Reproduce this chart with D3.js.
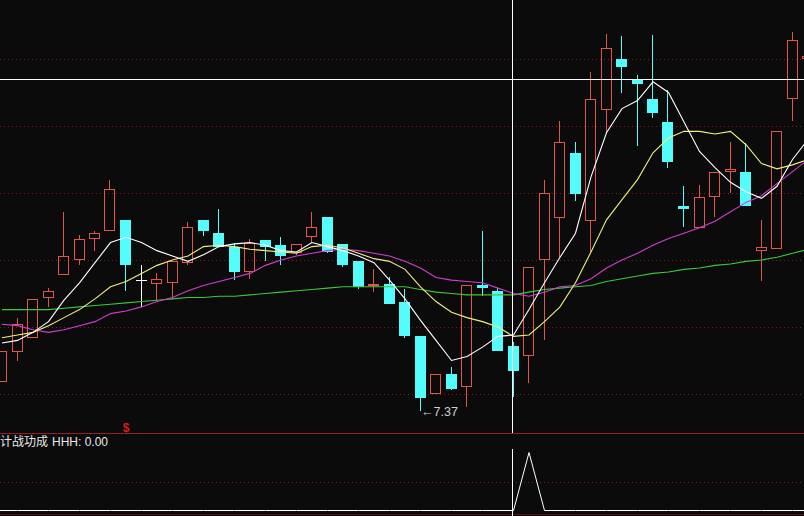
<!DOCTYPE html>
<html><head><meta charset="utf-8">
<script src="https://cdn.jsdelivr.net/npm/d3@7"></script>
<style>
html,body{margin:0;padding:0;background:#0b0b0b;overflow:hidden;}
svg{display:block;}
</style></head>
<body><svg id="c" width="804" height="516"></svg>
<script>
// ---- data ----
const days = d3.range(1, 54);
const open  = [7.59,7.81,7.92,8.22,8.39,8.50,8.66,8.72,8.80,8.35, 8.32,8.33,8.48,8.80,8.70,8.60,8.41,8.65,8.61,8.55, 8.67,8.82,8.62,8.49,8.31,8.32,8.19,7.93,7.50,7.65, 7.55,8.31,8.27,7.86,7.78,8.50,8.81,9.30,8.79,9.62, 10.00,9.84,9.70,9.53,8.90,8.74,8.97,9.16,9.16,8.57, 8.58,9.70,10.00];
const high  = [7.82,8.07,8.21,8.29,8.86,8.69,8.72,9.10,8.80,8.46, 8.40,8.49,8.78,8.80,8.88,8.63,8.66,8.65,8.67,8.62, 8.86,8.82,8.62,8.49,8.43,8.37,8.28,7.93,7.65,7.70, 8.31,8.72,8.29,7.89,8.45,9.10,9.54,9.38,9.90,10.19, 10.17,9.88,10.18,9.77,9.05,9.06,9.16,9.38,9.37,8.80, 9.46,10.20,10.06];
const low   = [7.59,7.75,7.92,8.15,8.39,8.46,8.57,8.72,8.27,8.15, 8.20,8.21,8.46,8.68,8.60,8.35,8.36,8.49,8.46,8.54, 8.63,8.55,8.45,8.28,8.26,8.17,7.92,7.37,7.50,7.53, 7.40,8.23,7.82,7.48,7.58,7.90,8.52,8.94,8.56,9.45, 9.75,9.35,9.56,9.19,8.75,8.74,8.82,9.00,8.90,8.34, 8.58,9.54,9.96];
const close = [7.82,8.02,8.21,8.27,8.53,8.66,8.70,9.03,8.46,8.35, 8.36,8.49,8.75,8.72,8.60,8.41,8.63,8.60,8.53,8.62, 8.75,8.56,8.46,8.30,8.32,8.17,7.93,7.47,7.65,7.54, 8.31,8.29,7.82,7.67,8.45,9.00,9.38,8.99,9.70,10.08, 9.94,9.81,9.60,9.23,8.88,8.97,9.16,9.18,8.90,8.60, 9.46,10.14,10.02];
const ma5   = [7.88,7.90,7.96,8.04,8.20,8.33,8.48,8.63,8.67,8.63, 8.57,8.53,8.49,8.54,8.60,8.62,8.63,8.61,8.57,8.56, 8.63,8.60,8.57,8.53,8.48,8.35,8.21,8.05,7.90,7.75, 7.78,7.85,7.93,7.94,8.13,8.33,8.52,8.70,9.12,9.45, 9.63,9.69,9.83,9.75,9.53,9.31,9.19,9.08,9.01,8.96, 9.05,9.25,9.40];
const ma10  = [7.92,7.94,7.96,8.01,8.07,8.13,8.21,8.30,8.34,8.40, 8.46,8.50,8.53,8.60,8.61,8.60,8.58,8.57,8.56,8.55, 8.60,8.61,8.59,8.55,8.51,8.49,8.43,8.30,8.19,8.11, 8.07,8.04,8.00,7.93,7.94,8.04,8.15,8.33,8.56,8.80, 8.95,9.10,9.30,9.41,9.46,9.46,9.44,9.46,9.36,9.22, 9.18,9.21,9.25];
const ma20  = [8.02,8.01,7.98,7.96,7.98,8.01,8.04,8.10,8.12,8.15, 8.19,8.22,8.27,8.31,8.34,8.37,8.40,8.46,8.50,8.53, 8.55,8.57,8.58,8.57,8.55,8.53,8.49,8.44,8.37,8.35, 8.34,8.33,8.29,8.25,8.23,8.26,8.30,8.31,8.36,8.44, 8.50,8.55,8.61,8.66,8.70,8.74,8.79,8.86,8.93,8.98, 9.07,9.16,9.25];
const ma60  = [8.13,8.13,8.13,8.13,8.14,8.15,8.16,8.17,8.18,8.19, 8.20,8.21,8.22,8.22,8.23,8.23,8.24,8.25,8.26,8.27, 8.28,8.29,8.30,8.30,8.30,8.30,8.30,8.28,8.26,8.25, 8.24,8.24,8.24,8.24,8.26,8.28,8.29,8.30,8.31,8.34, 8.36,8.38,8.40,8.41,8.43,8.44,8.46,8.47,8.49,8.50, 8.52,8.55,8.58];
const hhh   = [0,0,0,0,0,0,0,0,0,0, 0,0,0,0,0,0,0,0,0,0, 0,0,0,0,0,0,0,0,0,0, 0,0,0,0,1,0,0,0,0,0, 0,0,0,0,0,0,0,0,0,0, 0,0,0];
const priceGrid = [7.5, 8.0, 8.5, 9.0, 9.5, 10.0];
const hhhGrid = [0.5];
const crossIdx = 33, crossPrice = 9.85;
const lowIdx = 27;      // candle with the marked low 7.37
const signalIdx = 8;    // "$" signal candle
const indName = "计战功成", hhhLabel = "HHH: 0.00";

// ---- colors ----
const UP = "#e0564a", DOWN = "#54fcfc", GRID = "#7a1e1e", AXIS = "#9a1e1e";

const svg = d3.select("#c");
svg.append("rect").attr("width",804).attr("height",516).attr("fill","#0b0b0b");

const x = d3.scaleLinear().domain([0, 52]).range([2, 808]);
const y = d3.scaleLinear().domain([7.5, 10]).range([394, 59]);
const yh = d3.scaleLinear().domain([0, 1]).range([510.5, 452.5]);

const defs = svg.append("defs");
defs.append("clipPath").attr("id","main").append("rect").attr("x",0).attr("y",0).attr("width",804).attr("height",433);
defs.append("clipPath").attr("id","sub").append("rect").attr("x",0).attr("y",434).attr("width",804).attr("height",82);

// grid
svg.append("g").selectAll("line").data(priceGrid).join("line")
  .attr("x1",0).attr("x2",804)
  .attr("y1",d=>Math.round(y(d))+0.5).attr("y2",d=>Math.round(y(d))+0.5)
  .attr("stroke",GRID).attr("stroke-dasharray","1,3");
svg.append("g").selectAll("line").data(hhhGrid).join("line")
  .attr("x1",0).attr("x2",804)
  .attr("y1",d=>Math.round(yh(d))+0.5).attr("y2",d=>Math.round(yh(d))+0.5)
  .attr("stroke",GRID).attr("stroke-dasharray","1,3");
// panel separators
svg.append("line").attr("x1",0).attr("x2",804).attr("y1",433.5).attr("y2",433.5).attr("stroke",AXIS);
svg.append("line").attr("x1",0).attr("x2",804).attr("y1",514.5).attr("y2",514.5).attr("stroke","#5a1010");

// candles
const data = days.map((d,i)=>({i, o:open[i], h:high[i], l:low[i], c:close[i]}));
const gC = svg.append("g").attr("clip-path","url(#main)").attr("shape-rendering","crispEdges");
data.forEach(d=>{
  const left = Math.floor(x(d.i) - 5.5);
  const cx = left + 5.5;
  const yo = Math.round(y(d.o)), yc = Math.round(y(d.c));
  const yhi = Math.round(y(d.h)), ylo = Math.round(y(d.l));
  const top = Math.min(yo,yc), bot = Math.max(yo,yc);
  if (d.o === d.c) {
    gC.append("line").attr("x1",cx).attr("x2",cx).attr("y1",yhi).attr("y2",ylo).attr("stroke","#fff");
    gC.append("line").attr("x1",left).attr("x2",left+11).attr("y1",yo+0.5).attr("y2",yo+0.5).attr("stroke","#fff");
    return;
  }
  const up = d.c > d.o;
  const col = up ? UP : DOWN;
  if (yhi < top) gC.append("line").attr("x1",cx).attr("x2",cx).attr("y1",yhi).attr("y2",top).attr("stroke",col);
  if (ylo > bot) gC.append("line").attr("x1",cx).attr("x2",cx).attr("y1",bot).attr("y2",ylo).attr("stroke",col);
  if (up) {
    gC.append("rect").attr("x",left+0.5).attr("y",top+0.5).attr("width",10).attr("height",Math.max(1,bot-top-1))
      .attr("fill","none").attr("stroke",col);
  } else {
    gC.append("rect").attr("x",left).attr("y",top).attr("width",11).attr("height",Math.max(2,bot-top)).attr("fill",col);
  }
});

// moving averages
const line = d3.line().x((d,i)=>x(i)).y(d=>y(d));
const gL = svg.append("g").attr("clip-path","url(#main)").attr("fill","none").attr("stroke-width",1.1);
[[ma60,"#3cc83c"],[ma20,"#d23cd2"],[ma10,"#f0f080"],[ma5,"#ffffff"]].forEach(([s,c])=>{
  gL.append("path").attr("d",line(s)).attr("stroke",c);
});

// low marker
const lx = Math.floor(x(lowIdx)-5.5)+5.5;
svg.append("text").attr("x",lx+0.5).attr("y",y(low[lowIdx])+4.5)
  .attr("font-family","Liberation Sans, Arial, sans-serif").attr("font-size",12.5)
  .attr("fill","#d0d0d0").text("\u2190" + low[lowIdx].toFixed(2));

// signal "$"
svg.append("text").attr("x",x(signalIdx)).attr("y",432).attr("text-anchor","middle")
  .attr("font-family","Liberation Sans, Arial, sans-serif").attr("font-weight","bold").attr("font-size",12)
  .attr("fill","#d42020").text("$");

// indicator panel
const lineH = d3.line().x((d,i)=>x(i)).y(d=>yh(d));
svg.append("path").attr("clip-path","url(#sub)").attr("d",lineH(hhh)).attr("fill","none").attr("stroke","#fff").attr("stroke-width",1);
svg.append("line").attr("x1",0).attr("x2",x(0)).attr("y1",yh(0)).attr("y2",yh(0)).attr("stroke","#fff").attr("stroke-width",1);
svg.append("text").attr("x",0).attr("y",446)
  .attr("font-family","Noto Sans CJK SC, sans-serif").attr("font-size",12).attr("fill","#e8e8e8").text(indName);
svg.append("text").attr("x",52).attr("y",446)
  .attr("font-family","Liberation Sans, Arial, sans-serif").attr("font-size",12).attr("fill","#e8e8e8").text(hhhLabel);

// crosshair
const vx = Math.round(x(crossIdx)) - 2 + 0.5;
const g = svg.append("g").attr("stroke","#fff").attr("shape-rendering","crispEdges");
g.append("line").attr("x1",0).attr("x2",804).attr("y1",Math.round(y(crossPrice))+0.5).attr("y2",Math.round(y(crossPrice))+0.5);
g.append("line").attr("x1",vx).attr("x2",vx).attr("y1",0).attr("y2",433);
g.append("line").attr("x1",vx).attr("x2",vx).attr("y1",449).attr("y2",516);
</script></body></html>
